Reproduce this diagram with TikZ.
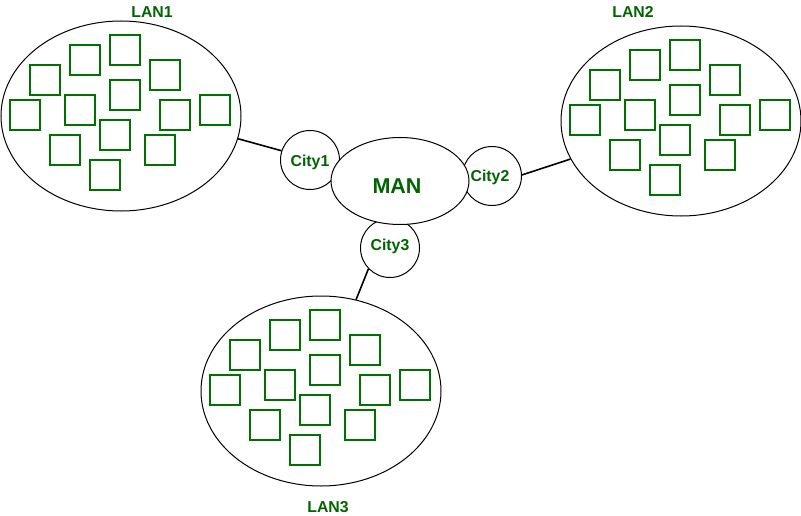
\documentclass[tikz,border=0pt]{standalone}
\usepackage{fontspec}
\setmainfont{Liberation Sans}
\usetikzlibrary{shapes.geometric}
\definecolor{txtgreen}{RGB}{0,100,0}
\definecolor{boxgreen}{RGB}{0,112,0}
\newcommand\lanboxes[2]{%
  \foreach \dx/\dy [count=\k] in {4/-66,-36/-56,44/-41,-76/-36,4/-21,-96/-1,-41/-6,54/-1,94/-6,-6/19,-56/34,39/34,-16/59}
    {\node[pc] (#1s\k) at ([shift={(\dx,\dy)}]#2.center) {};}%
}
\begin{document}
\begin{tikzpicture}[x=1pt,y=-1pt,
  lan/.style={draw=black, line width=1pt, ellipse, inner sep=0pt, minimum width=240pt, minimum height=190pt},
  city/.style={draw=black, line width=1pt, circle, fill=white, inner sep=0pt, minimum size=59pt},
  man/.style={draw=black, line width=1pt, ellipse, fill=white, inner sep=0pt, minimum width=138pt, minimum height=87pt},
  pc/.style={draw=boxgreen, line width=1.1pt, rectangle, inner sep=0pt, minimum size=30pt},
  lbl/.style={text=txtgreen, font=\fontsize{15.8}{18}\selectfont\bfseries, inner sep=0pt},
  manlbl/.style={text=txtgreen, font=\fontsize{21.5}{24}\selectfont\bfseries, inner sep=0pt},
  link/.style={draw=black, line width=1.6pt}]
\useasboundingbox (0,0) rectangle (801,516);

\node[lan] (lan1) at (121,116) {};
\node[lan] (lan2) at (681,121) {};
\node[lan] (lan3) at (321,391) {};
\lanboxes{a}{lan1}
\lanboxes{b}{lan2}
\lanboxes{c}{lan3}

\node[city] (c1) at (310,160) {};
\node[city] (c2) at (492,176) {};
\node[city] (c3) at (390,248) {};
\node[man] (man) at (400,181) {};

\draw[link] (lan1.-11.2) -- (c1.162.4);
\draw[link] (c2.2) -- (lan2.199);
\draw[link] (c3.-136.9) -- (lan3.69.1);

\node[lbl] (t1) at (152,12) {LAN1};
\node[lbl] (t2) at (633,12) {LAN2};
\node[lbl] (t3) at (328,507) {LAN3};
\node[lbl, anchor=base] (tc1) at (310,166.7) {City1};
\node[lbl, anchor=base] (tc2) at (490,181.5) {City2};
\node[lbl, anchor=base] (tc3) at (390,251) {City3};
\node[manlbl, anchor=base] (tm) at (397,193.3) {MAN};
\end{tikzpicture}
\end{document}
